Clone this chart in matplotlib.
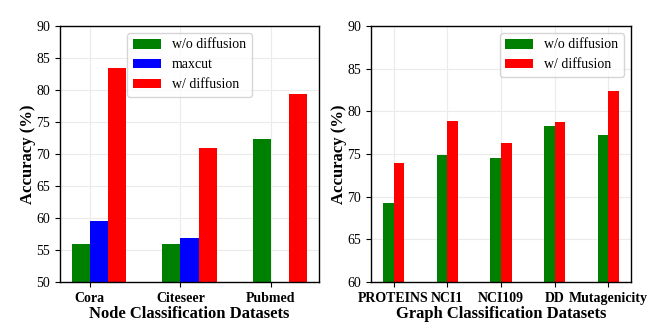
import numpy as np
import matplotlib
matplotlib.use("Agg")
import matplotlib.pyplot as plt

plt.rcParams['font.family'] = ['Liberation Serif', 'DejaVu Serif']

node_datasets = ["Cora", "Citeseer", "Pubmed"]
node_wo = [55.9, 55.9, 72.4]
node_maxcut = [59.5, 56.9, np.nan]
node_w = [83.4, 71.0, 79.4]

graph_datasets = ["PROTEINS", "NCI1", "NCI109", "DD", "Mutagenicity"]
graph_wo = [69.3, 74.9, 74.5, 78.3, 77.2]
graph_w = [74.0, 78.9, 76.3, 78.7, 82.4]

fig = plt.figure(figsize=(6.64, 3.32), dpi=100)
ax1 = fig.add_axes([60/664, 50/332, 259/664, 256/332])
ax2 = fig.add_axes([371/664, 50/332, 260/664, 256/332])

w = 0.2
x1 = np.arange(len(node_datasets))
ax1.bar(x1 - w, node_wo, w, align='edge', color='green', label='w/o diffusion')
ax1.bar(x1, node_maxcut, w, align='edge', color='blue', label='maxcut')
ax1.bar(x1 + w, node_w, w, align='edge', color='red', label='w/ diffusion')
ax1.set_ylim(50, 90)
ax1.set_yticks(np.arange(50, 91, 5))
ax1.set_xticks(x1)
ax1.set_xticklabels(node_datasets, fontweight='bold', fontsize=10)
ax1.set_xlabel("Node Classification Datasets", fontweight='bold', fontsize=12, labelpad=1)
ax1.set_ylabel("Accuracy (%)", fontweight='bold', fontsize=12, labelpad=0.5)
ax1.legend(loc='upper center', fontsize=10)

x2 = np.arange(len(graph_datasets))
ax2.bar(x2 - w, graph_wo, w, align='edge', color='green', label='w/o diffusion')
ax2.bar(x2, graph_w, w, align='edge', color='red', label='w/ diffusion')
ax2.set_ylim(60, 90)
ax2.set_yticks(np.arange(60, 91, 5))
ax2.set_xticks(x2)
ax2.set_xticklabels(graph_datasets, fontweight='bold', fontsize=10)
ax2.set_xlabel("Graph Classification Datasets", fontweight='bold', fontsize=12, labelpad=1)
ax2.set_ylabel("Accuracy (%)", fontweight='bold', fontsize=12, labelpad=0.5)
ax2.legend(loc='upper right', fontsize=10)

for ax in (ax1, ax2):
    ax.set_axisbelow(True)
    ax.grid(True, color='#ebebeb', linewidth=0.8)
    ax.tick_params(axis='y', labelsize=10)
    for s in ax.spines.values():
        s.set_color('black')
        s.set_linewidth(1.0)

fig.savefig("out.png", dpi=100)
